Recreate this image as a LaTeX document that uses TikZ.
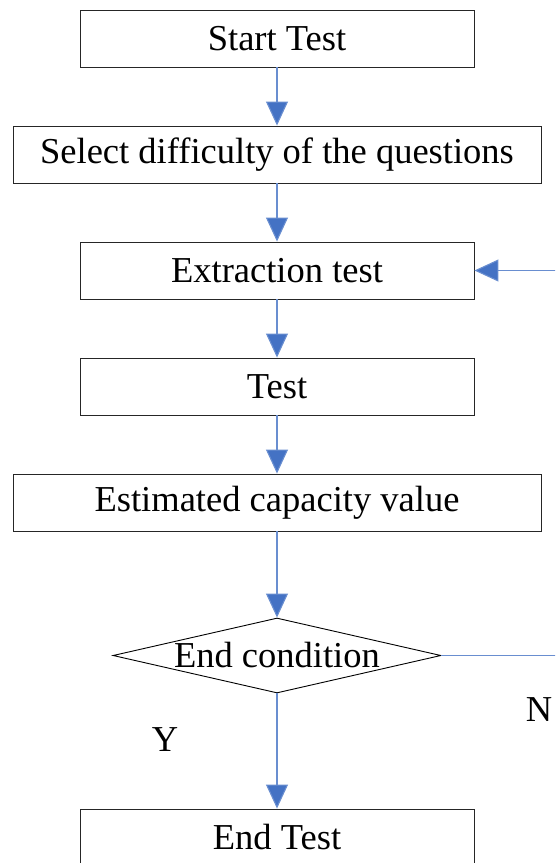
\documentclass[tikz,border=0pt]{standalone}
\usepackage{fontspec}
\setmainfont{Liberation Serif}
\usepackage{tikz}
\usetikzlibrary{shapes.geometric, arrows.meta}
\definecolor{flowblue}{HTML}{4472C4}
\tikzstyle{process} = [rectangle, minimum width=394pt, minimum height=57pt, text centered, draw=black!85, line width=0.9pt, font=\fontsize{36.5}{40}\selectfont]
\tikzstyle{widebox} = [process, minimum width=528pt]
\tikzstyle{decision} = [diamond, minimum width=328pt, minimum height=75pt, inner sep=0pt, draw=black, line width=0.9pt, font=\fontsize{36.5}{40}\selectfont]
\tikzstyle{arrow} = [line width=1.1pt, draw=flowblue!80, -{Triangle[length=24pt,width=22pt,fill=flowblue]}]

\begin{document}
\begin{tikzpicture}[node distance=116pt]
    \useasboundingbox (0,0) rectangle (555pt,-863pt);
    \clip (0,0) rectangle (555pt,-863pt);

    \node (start) [process] at (277pt,-38.5pt) {Start Test};
    \node (select) [widebox, below of=start] {Select difficulty of the questions};
    \node (extract) [process, below of=select] {Extraction test};
    \node (test) [process, below of=extract] {Test};
    \node (estimate) [widebox, below of=test] {Estimated capacity value};
    \node (cond) [decision, below of=estimate, yshift=-37pt] {\makebox[0pt]{End condition}};
    \node (finish) [process, below of=cond, yshift=-66pt] {End Test};

    \node (yes) [font=\fontsize{36.5}{40}\selectfont] at (165pt,-740pt) {Y};
    \node (no) [font=\fontsize{36.5}{40}\selectfont] at (539pt,-710pt) {N};

    \coordinate (loopside) at (590pt,-450pt);

    \draw [arrow] (start) -- (select);
    \draw [arrow] (select) -- (extract);
    \draw [arrow] (extract) -- (test);
    \draw [arrow] (test) -- (estimate);
    \draw [arrow] (estimate) -- (cond);
    \draw [arrow] (cond) -- (finish);

    % loop back when the end condition fails
    \draw [arrow] (cond.east) -| (loopside) |- (extract.east);

\end{tikzpicture}
\end{document}
